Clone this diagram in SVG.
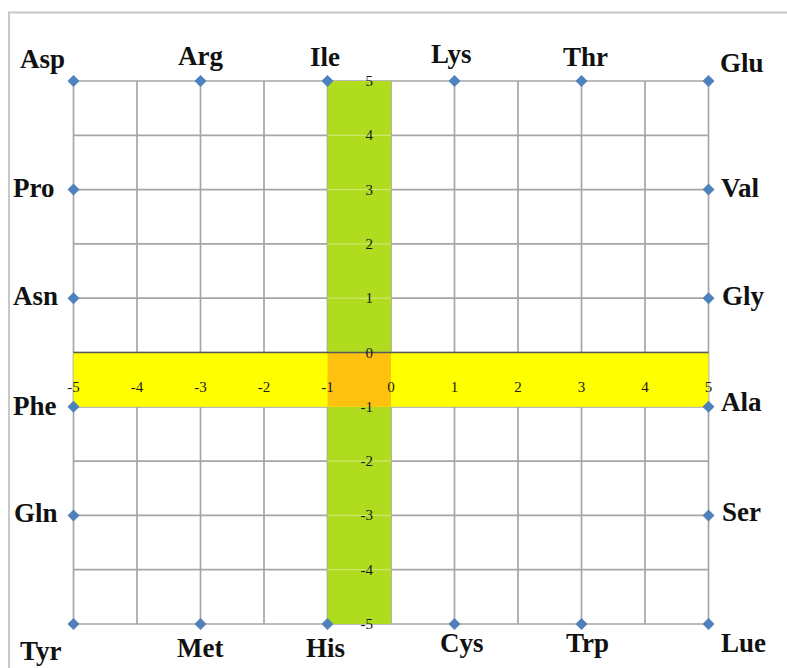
<svg xmlns="http://www.w3.org/2000/svg" width="787" height="668" viewBox="0 0 787 668">
<defs>
<style>
.grid{stroke:#a6a6a6;stroke-width:1.7;fill:none}
.frame{stroke:#c8c8c8;stroke-width:2;fill:none}
.aa{font-family:"Liberation Serif","Times New Roman",serif;font-weight:bold;font-size:27px;fill:#111}
.tick{font-family:"Liberation Serif","Times New Roman",serif;font-size:15px;fill:#1a1a1a}
.ytick{text-anchor:end}
.xtick{text-anchor:middle}
.mk{fill:#4f81bd}
</style>
<path id="dia" d="M0,-6 L6,0 L0,6 L-6,0 Z"/>
</defs>
<rect width="787" height="668" fill="#ffffff"/>
<path class="frame" d="M9,668 V12.5 H787"/>
<g id="grid">
<path class="grid" d="M73.5,81 V624 M137,81 V624 M200.5,81 V624 M264,81 V624 M327.5,81 V624 M391,81 V624 M454.5,81 V624 M518,81 V624 M581.5,81 V624 M645,81 V624 M708.5,81 V624"/>
<path class="grid" d="M73.5,81 H708.5 M73.5,135.3 H708.5 M73.5,189.6 H708.5 M73.5,243.9 H708.5 M73.5,298.2 H708.5 M73.5,352.5 H708.5 M73.5,406.8 H708.5 M73.5,461.1 H708.5 M73.5,515.4 H708.5 M73.5,569.7 H708.5 M73.5,624 H708.5"/>
</g>
<g id="bands">
<rect x="327.5" y="81" width="63.5" height="543" fill="#afdc1e"/>
<rect x="73.5" y="352.5" width="635" height="54.3" fill="#ffff00"/>
<rect x="327.5" y="352.5" width="63.5" height="54.3" fill="#ffc10f"/>
<path d="M327.5,135.3 H391 M327.5,189.6 H391 M327.5,243.9 H391 M327.5,298.2 H391 M327.5,461.1 H391 M327.5,515.4 H391 M327.5,569.7 H391" stroke="#e8f5c0" stroke-width="1" opacity="0.6"/>
<line x1="73.5" y1="352.5" x2="708.5" y2="352.5" stroke="#595959" stroke-width="1.5"/>
</g>
<g id="yaxis-labels" class="tick ytick">
<text x="373" y="86">5</text>
<text x="373" y="140.3">4</text>
<text x="373" y="194.6">3</text>
<text x="373" y="248.9">2</text>
<text x="373" y="303.2">1</text>
<text x="373" y="357.5">0</text>
<text x="373" y="411.8">-1</text>
<text x="373" y="466.1">-2</text>
<text x="373" y="520.4">-3</text>
<text x="373" y="574.7">-4</text>
<text x="373" y="629">-5</text>
</g>
<g id="xaxis-labels" class="tick xtick">
<text x="73.5" y="392">-5</text>
<text x="137" y="392">-4</text>
<text x="200.5" y="392">-3</text>
<text x="264" y="392">-2</text>
<text x="327.5" y="392">-1</text>
<text x="391" y="392">0</text>
<text x="454.5" y="392">1</text>
<text x="518" y="392">2</text>
<text x="581.5" y="392">3</text>
<text x="645" y="392">4</text>
<text x="708.5" y="392">5</text>
</g>
<g id="n-asp"><use href="#dia" class="mk" x="73.5" y="81"/><text class="aa" x="20" y="68">Asp</text></g>
<g id="n-arg"><use href="#dia" class="mk" x="200.5" y="81"/><text class="aa" x="178" y="65">Arg</text></g>
<g id="n-ile"><use href="#dia" class="mk" x="327.5" y="81"/><text class="aa" x="310" y="66">Ile</text></g>
<g id="n-lys"><use href="#dia" class="mk" x="454.5" y="81"/><text class="aa" x="431" y="63">Lys</text></g>
<g id="n-thr"><use href="#dia" class="mk" x="581.5" y="81"/><text class="aa" x="563" y="66">Thr</text></g>
<g id="n-glu"><use href="#dia" class="mk" x="708.5" y="81"/><text class="aa" x="720" y="72">Glu</text></g>
<g id="n-pro"><use href="#dia" class="mk" x="73.5" y="189.6"/><text class="aa" x="13" y="197">Pro</text></g>
<g id="n-val"><use href="#dia" class="mk" x="708.5" y="189.6"/><text class="aa" x="721" y="197">Val</text></g>
<g id="n-asn"><use href="#dia" class="mk" x="73.5" y="298.2"/><text class="aa" x="13" y="305">Asn</text></g>
<g id="n-gly"><use href="#dia" class="mk" x="708.5" y="298.2"/><text class="aa" x="722" y="305">Gly</text></g>
<g id="n-phe"><use href="#dia" class="mk" x="73.5" y="406.8"/><text class="aa" x="13" y="415">Phe</text></g>
<g id="n-ala"><use href="#dia" class="mk" x="708.5" y="406.8"/><text class="aa" x="721" y="411">Ala</text></g>
<g id="n-gln"><use href="#dia" class="mk" x="73.5" y="515.4"/><text class="aa" x="14" y="522">Gln</text></g>
<g id="n-ser"><use href="#dia" class="mk" x="708.5" y="515.4"/><text class="aa" x="722" y="521">Ser</text></g>
<g id="n-tyr"><use href="#dia" class="mk" x="73.5" y="624"/><text class="aa" x="20" y="660">Tyr</text></g>
<g id="n-met"><use href="#dia" class="mk" x="200.5" y="624"/><text class="aa" x="177" y="657">Met</text></g>
<g id="n-his"><use href="#dia" class="mk" x="327.5" y="624"/><text class="aa" x="306" y="657">His</text></g>
<g id="n-cys"><use href="#dia" class="mk" x="454.5" y="624"/><text class="aa" x="440" y="652">Cys</text></g>
<g id="n-trp"><use href="#dia" class="mk" x="581.5" y="624"/><text class="aa" x="566" y="652">Trp</text></g>
<g id="n-lue"><use href="#dia" class="mk" x="708.5" y="624"/><text class="aa" x="721" y="652">Lue</text></g>
<g id="connectors"></g>
</svg>
